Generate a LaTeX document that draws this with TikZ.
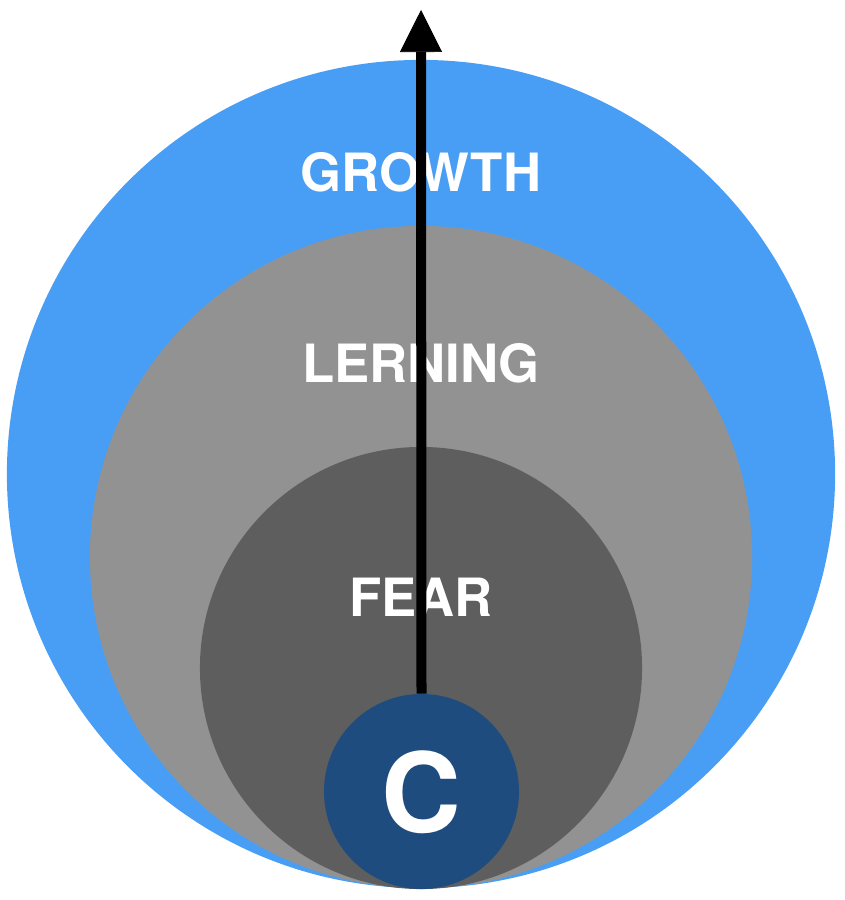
\documentclass[tikz,border=0pt]{standalone}
\usepackage{fontspec}
\setmainfont{TeX Gyre Heros}
\usetikzlibrary{arrows.meta}

\definecolor{growthblue}{RGB}{72,158,245}
\definecolor{lerngray}{RGB}{146,146,146}
\definecolor{feargray}{RGB}{94,94,94}
\definecolor{corenavy}{RGB}{31,76,126}

\begin{document}
\begin{tikzpicture}[
    x=0.025cm, y=-0.025cm,
    ring/.style={circle, draw=none, inner sep=0pt},
    zonetext/.style={text=white, font=\bfseries\fontsize{37.5}{40}\selectfont, inner sep=0pt},
    arrow/.style={-{Triangle[width=1.05cm, length=1.05cm, line width=0.5pt]}, line width=0.25cm, black}
]
\useasboundingbox (0,0) rectangle (845,900);

\node[ring, fill=growthblue, minimum size=20.7cm] (growth) at (421,474) {};
\node[ring, fill=lerngray, minimum size=16.55cm] (lerning) at (421,557) {};
\node[ring, fill=feargray, minimum size=11.05cm] (fear) at (421,668) {};

\node[zonetext] (growthtext) at (421,172.5) {GROWTH};
\node[zonetext] (lerningtext) at (421,363) {LERNING};
\node[zonetext] (feartext) at (421,597) {FEAR};

\coordinate (top) at (421,10);
\node[ring, fill=corenavy, minimum size=4.875cm] (core) at (421.5,791.5) {};
\node[zonetext, font=\bfseries\fontsize{78.5}{80}\selectfont] (coretext) at (421,792.5) {C};

\draw[arrow] (core.north) -- (top);

\end{tikzpicture}
\end{document}
